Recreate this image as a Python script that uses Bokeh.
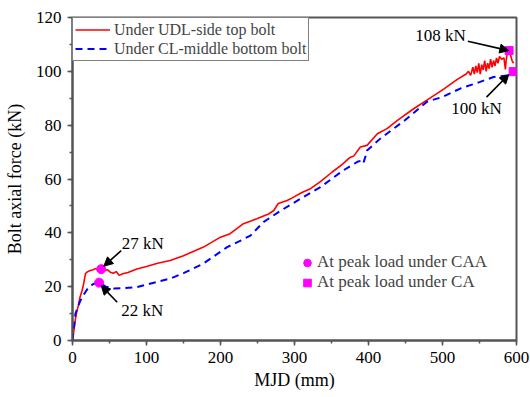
from bokeh.plotting import figure
from bokeh.models import (Legend, LegendItem, Arrow, NormalHead, Label, Range1d,
                          SingleIntervalTicker)
from bokeh.embed import file_html
from bokeh.resources import INLINE

# ---- data ----
udl_x = [0, 2, 4, 6, 8, 10, 13, 15, 17.6, 20, 24, 28, 31, 35, 39, 43, 47, 51, 55, 59, 63, 68, 75, 87,
         100, 115, 132, 150, 177, 200, 213, 231, 249, 265, 272, 278, 290, 297, 310, 321.6, 335, 351,
         365, 375, 380, 389, 398, 412, 425, 440, 461, 480, 502, 520, 532,
         535, 538, 541, 543, 545, 547, 549, 551, 553, 555, 557, 559, 561, 563, 565, 567, 569, 571,
         573, 575, 577, 580, 583, 585, 586, 588, 590, 592, 594, 596]
udl_y = [0, 4, 8, 11, 13, 16, 18.6, 21, 24.9, 25.5, 26, 26.3, 26.7, 26.2, 26.6, 26.0, 26.3, 25.4, 25.0,
         25.6, 24.2, 24.8, 25.3, 26.6, 27.5, 28.7, 29.7, 31.5, 34.7, 38.4, 39.7, 43.4, 45.2, 47, 48.3,
         50.9, 52, 53, 55, 56.4, 59, 62.6, 65.5, 68, 68.5, 71.9, 72.5, 76.8, 78.7, 82, 86.1, 89.5, 93.5,
         97, 99,
         100, 98.5, 101.5, 99, 102, 99.5, 103, 99, 102.5, 100.5, 104, 100, 103, 101, 104.5, 101.5, 104,
         102, 105, 103, 105.5, 104.5, 105, 100.7, 104, 107.5, 108, 106, 104, 103]

cl_x = [0, 4, 8, 10.8, 15, 21.6, 28, 36.5, 45, 55.6, 70, 87, 100, 115, 132, 150, 177, 200, 209, 225,
        240.5, 258, 280, 312, 335, 350, 366, 385, 390, 393, 396, 398, 416, 434, 450, 479, 500, 524,
        550, 569, 590, 595.5, 598]
cl_y = [0, 10, 13, 14.9, 17, 19.7, 21, 21.5, 20, 19.3, 19.5, 19.8, 20.8, 21.8, 23, 25, 28.6, 33, 34.7,
        36.8, 39, 44, 48, 53.3, 57, 60, 63.2, 66.4, 66.8, 65.8, 68.5, 70.6, 75, 78.7, 82, 88.7, 90.5,
        93.6, 96, 97.9, 98.5, 100, 97]

caa_x = [38.8, 36]
caa_y = [26.5, 21.5]
ca_x = [590, 595.5]
ca_y = [107.7, 99.9]

ann_text = ["108 kN", "100 kN", "27 kN", "22 kN"]
ann_tx = [497.3, 545.9, 95, 94.2]
ann_ty = [113.3, 86.1, 35.9, 11.1]
arr_x0 = [534.2, 559.5, 65.8, 60.4]
arr_y0 = [111.2, 90.4, 33.4, 14.2]
arr_x1 = [589.6, 589.6, 42.3, 38.8]
arr_y1 = [107.7, 98.8, 27.6, 20.4]

FONT = "Liberation Serif"
AX = "#555555"

p = figure(width=530, height=397, output_backend="svg", toolbar_location=None,
           x_range=Range1d(0, 600), y_range=Range1d(0, 120),
           frame_width=444, frame_height=323,
           min_border_left=72, min_border_right=14, min_border_top=17, min_border_bottom=57)
p.grid.visible = False
p.outline_line_color = AX
p.outline_line_width = 2
p.background_fill_color = "white"
p.border_fill_color = "white"

p.xaxis.ticker = SingleIntervalTicker(interval=100, num_minor_ticks=2)
p.yaxis.ticker = SingleIntervalTicker(interval=20, num_minor_ticks=2)
for ax in (p.xaxis[0], p.yaxis[0]):
    ax.axis_line_color = AX
    ax.axis_line_width = 2
    ax.major_tick_in = 0
    ax.major_tick_out = 5
    ax.minor_tick_in = 0
    ax.minor_tick_out = 3
    ax.major_tick_line_color = AX
    ax.minor_tick_line_color = AX
    ax.major_tick_line_width = 1.5
    ax.minor_tick_line_width = 1.5
    ax.major_label_text_font = FONT
    ax.major_label_text_font_size = "17px"
    ax.major_label_text_color = "black"
    ax.axis_label_text_font = FONT
    ax.axis_label_text_font_size = "18px"
    ax.axis_label_text_font_style = "normal"
    ax.axis_label_text_color = "black"
    ax.major_label_standoff = 6
p.xaxis.axis_label = "MJD (mm)"
p.yaxis.axis_label = "Bolt axial force (kN)"
p.xaxis.axis_label_standoff = 4
p.yaxis.axis_label_standoff = 8

r_udl = p.line(udl_x, udl_y, line_color="#ff0000", line_width=1.6)
r_cl = p.line(cl_x, cl_y, line_color="#0000ff", line_width=2, line_dash="7 5")

for i in range(len(ann_text)):
    p.add_layout(Arrow(end=NormalHead(size=9, fill_color="black", line_color="black"),
                       x_start=arr_x0[i], y_start=arr_y0[i], x_end=arr_x1[i], y_end=arr_y1[i],
                       line_color="black", line_width=1.6))
    p.add_layout(Label(x=ann_tx[i], y=ann_ty[i], text=ann_text[i], text_font=FONT,
                       text_font_size="17px", text_align="center", text_baseline="middle",
                       text_color="black"))

r_caa = p.scatter(caa_x, caa_y, marker="circle", size=9, fill_color="#ff00ff", line_color="#ff00ff")
r_ca = p.scatter(ca_x, ca_y, marker="square", size=8, fill_color="#ff00ff", line_color="#ff00ff")

leg1 = Legend(items=[LegendItem(label="Under UDL-side top bolt", renderers=[r_udl]),
                     LegendItem(label="Under CL-middle bottom bolt", renderers=[r_cl])],
              location="top_left", margin=0, padding=2, spacing=0,
              glyph_width=35, glyph_height=19, label_height=19, label_standoff=4,
              border_line_color="black", border_line_width=1.5,
              label_text_font=FONT, label_text_font_size="16px", background_fill_alpha=1)
leg2 = Legend(items=[LegendItem(label="At peak load under CAA", renderers=[r_caa]),
                     LegendItem(label="At peak load under CA", renderers=[r_ca])],
              location=(225, 48), margin=0, padding=0, spacing=0,
              glyph_width=20, glyph_height=19, label_height=19, label_standoff=0,
              border_line_color=None, background_fill_alpha=0,
              label_text_font=FONT, label_text_font_size="17px")
p.add_layout(leg1)
p.add_layout(leg2)

open("out.html", "w").write(file_html(p, INLINE))
